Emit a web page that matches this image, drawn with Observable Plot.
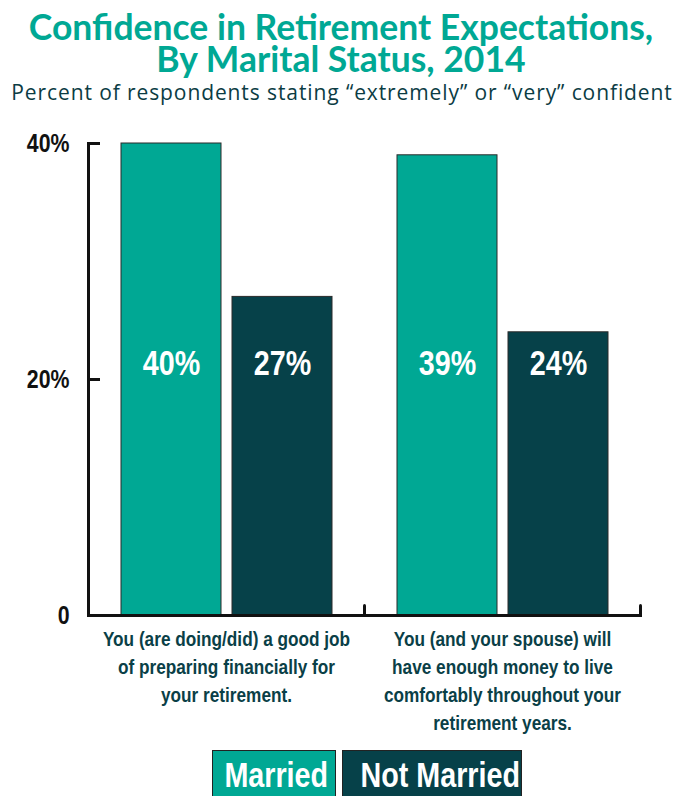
<!DOCTYPE html>
<html>
<head>
<meta charset="utf-8">
<script src="https://cdn.jsdelivr.net/npm/d3@7"></script>
<script src="https://cdn.jsdelivr.net/npm/@observablehq/plot@0.6"></script>
<style>
  html, body { margin: 0; padding: 0; background: #fff; }
  body { width: 676px; height: 796px; overflow: hidden; }
  .title { font-family: Lato, sans-serif; font-weight: bold; font-size: 35.5px; line-height: 32px;
           color: #00a894; text-align: center; padding-top: 11px; margin-left: 6px; }
  .subtitle { font-family: "Open Sans", sans-serif; font-size: 21px; line-height: 24px; color: #0b3c44;
              letter-spacing: 0.9px; text-align: center; margin-top: 5px; margin-left: 8px; white-space: nowrap; }
  #chart { margin-top: 6px; height: 630px; }
  #chart svg { display: block; }
  .legend { display: flex; gap: 6px; margin-left: 212px; margin-top: 10px; }
  .legend div { height: 52px; box-sizing: border-box; border: 1px solid #222; color: #fff;
                font-family: "Liberation Sans", sans-serif; font-weight: bold; font-size: 35px;
                line-height: 48px; text-align: center; white-space: nowrap; overflow: hidden; }
  .legend span { display: inline-block; transform: scaleX(0.82); transform-origin: center; }
</style>
</head>
<body>
<div class="title">Confidence in Retirement Expectations,<br>By Marital Status, 2014</div>
<div class="subtitle">Percent of respondents stating “extremely” or “very” confident</div>
<div id="chart"></div>
<div class="legend" id="legend"></div>
<script>
const questions = [
  "You (are doing/did) a good job\nof preparing financially for\nyour retirement.",
  "You (and your spouse) will\nhave enough money to live\ncomfortably throughout your\nretirement years."
];
const statuses = ["Married", "Not Married"];
const married = [40, 39];
const notMarried = [27, 24];
const yTicks = [0, 20, 40];
const colors = ["#00a894", "#064149"];

const table = [];
questions.forEach((q, i) => {
  table.push({question: q, status: statuses[0], value: married[i]});
  table.push({question: q, status: statuses[1], value: notMarried[i]});
});

const font = "'Liberation Sans', Arial, sans-serif";
const tickShape = {draw(context, l) { context.moveTo(0, 0); context.lineTo(0, -l); }};

const chart = Plot.plot({
  width: 676,
  height: 630,
  marginLeft: 88,
  marginRight: 36,
  marginTop: 33,
  marginBottom: 125,
  style: {fontFamily: font, overflow: "visible"},
  fx: {domain: questions, padding: 0, axis: null},
  x: {domain: statuses, paddingInner: 0.1, paddingOuter: 0.29, axis: null},
  y: {domain: [0, 40]},
  color: {domain: statuses, range: colors},
  marks: [
    Plot.barY(table, {fx: "question", x: "status", y: "value", fill: "status", stroke: "#2b2b2b", strokeWidth: 1}),
    Plot.text(table, {fx: "question", x: "status", text: d => d.value + "%", frameAnchor: "middle", dy: -16,
      fill: "white", fontSize: 35, fontWeight: "bold"}),
    Plot.axisY({ticks: yTicks, tickSize: -12, tickPadding: 31, strokeWidth: 3, stroke: "#111", fill: "#111",
      tickFormat: d => d === 0 ? "0" : d + "%", fontSize: 26, fontWeight: "bold", label: null}),
    Plot.frame({anchor: "left", facetAnchor: "left", stroke: "#111", strokeWidth: 3}),
    Plot.frame({anchor: "bottom", stroke: "#111", strokeWidth: 3}),
    Plot.vector([0], {frameAnchor: "bottom-right", length: 10, rotate: 0, anchor: "start", shape: tickShape,
      stroke: "#111", strokeWidth: 3}),
    Plot.text(questions, {fx: d => d, text: d => d, frameAnchor: "bottom", lineAnchor: "top", dy: 11,
      lineHeight: 1.33, fontSize: 21, fontWeight: "bold", fill: "#0a3f47"})
  ]
});
document.getElementById("chart").appendChild(chart);

// emulate a narrow (condensed) face by squeezing each text horizontally around its anchor
chart.querySelectorAll("text").forEach(t => {
  const x = +(t.getAttribute("x") || 0);
  const y = +(t.getAttribute("y") || 0);
  let tr = t.getAttribute("transform") || "";
  if (x || y) {
    t.removeAttribute("x"); t.removeAttribute("y");
    tr += ` translate(${x},${y})`;
  }
  t.setAttribute("transform", tr + " scale(0.82,1)");
});

const legend = document.getElementById("legend");
const widths = [124, 180];
statuses.forEach((s, i) => {
  const d = document.createElement("div");
  const sp = document.createElement("span");
  sp.textContent = s;
  d.appendChild(sp);
  d.style.background = colors[i];
  d.style.width = widths[i] + "px";
  legend.appendChild(d);
});
</script>
</body>
</html>
